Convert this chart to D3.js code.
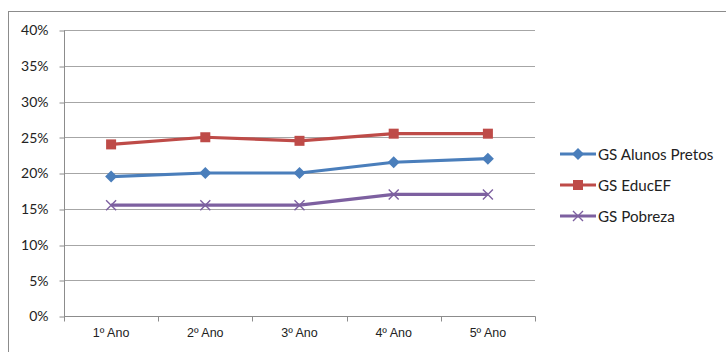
<!DOCTYPE html>
<html>
<head>
<meta charset="utf-8">
<script src="https://cdn.jsdelivr.net/npm/d3@7"></script>
<style>
  html, body { margin: 0; padding: 0; background: #fff; }
  svg { display: block; }
</style>
</head>
<body>
<svg id="chart" width="726" height="352"></svg>
<script>
// Categories (school years) and series values in percent
const categories = ["1º Ano", "2º Ano", "3º Ano", "4º Ano", "5º Ano"];
const alunosPretos = [19.5, 20, 20, 21.5, 22];
const educEF = [24, 25, 24.5, 25.5, 25.5];
const pobreza = [15.5, 15.5, 15.5, 17, 17];
const yTicks = [0, 5, 10, 15, 20, 25, 30, 35, 40];

const series = [
  { name: "GS Alunos Pretos", values: alunosPretos, color: "#4A7EBB", marker: "diamond" },
  { name: "GS EducEF", values: educEF, color: "#BE4B48", marker: "square" },
  { name: "GS Pobreza", values: pobreza, color: "#7D60A0", marker: "cross" }
];

const svg = d3.select("#chart");
const plot = { left: 64, right: 535, top: 30, bottom: 316 };

// Outer chart frame
svg.append("rect")
  .attr("x", 8.5).attr("y", 11.5)
  .attr("width", 800).attr("height", 400)
  .attr("fill", "none").attr("stroke", "#8c8c8c").attr("stroke-width", 1);

const x = d3.scaleBand().domain(categories).range([plot.left, plot.right]);
const y = d3.scaleLinear().domain([0, 40]).range([plot.bottom, plot.top]);

// Horizontal gridlines
svg.append("g")
  .selectAll("line")
  .data(yTicks.filter(t => t > 0))
  .join("line")
  .attr("x1", plot.left).attr("x2", plot.right)
  .attr("y1", d => Math.round(y(d)) + 0.5).attr("y2", d => Math.round(y(d)) + 0.5)
  .attr("stroke", "#a6a6a6").attr("stroke-width", 1);

// Y axis
const yAxis = d3.axisLeft(y).tickValues(yTicks).tickSize(5).tickPadding(11)
  .tickFormat(d => d + "%");
const gy = svg.append("g").attr("transform", `translate(${plot.left + 0.5},0.5)`).call(yAxis);
gy.select(".domain").attr("stroke", "#8c8c8c").attr("d", `M0,${plot.top}V${plot.bottom}`);
gy.selectAll(".tick line").attr("stroke", "#8c8c8c")
  .attr("transform", function(d) { return `translate(0,${Math.round(y(d)) - y(d)})`; });
gy.selectAll(".tick text")
  .attr("font-family", "Lato, 'Open Sans', sans-serif")
  .attr("font-size", "14px").attr("fill", "#222");

// X axis with boundary ticks between categories
const gx = svg.append("g").attr("transform", `translate(0,${plot.bottom + 0.5})`);
gx.append("line").attr("x1", plot.left).attr("x2", plot.right + 0.5)
  .attr("stroke", "#8c8c8c");
const bounds = categories.map(c => x(c)).concat([plot.right]);
gx.selectAll("line.b").data(bounds).join("line").attr("class", "b")
  .attr("x1", d => Math.round(d) + 0.5).attr("x2", d => Math.round(d) + 0.5)
  .attr("y1", 0).attr("y2", 5).attr("stroke", "#8c8c8c");
gx.selectAll("text").data(categories).join("text")
  .attr("x", d => x(d) + x.bandwidth() / 2)
  .attr("y", 20.5)
  .attr("text-anchor", "middle")
  .attr("font-family", "'Liberation Sans', Arial, sans-serif")
  .attr("font-size", "12.5px").attr("fill", "#222")
  .text(d => d);

const cx = c => x(c) + x.bandwidth() / 2;
const line = d3.line().x((d, i) => cx(categories[i])).y(d => y(d));

function drawMarker(g, type, color) {
  if (type === "diamond") {
    g.append("path").attr("d", "M0,-6L6,0L0,6L-6,0Z").attr("fill", color);
  } else if (type === "square") {
    g.append("rect").attr("x", -5).attr("y", -5).attr("width", 10).attr("height", 10).attr("fill", color);
  } else {
    g.append("path").attr("d", "M-5,-5L5,5M-5,5L5,-5")
      .attr("stroke", color).attr("stroke-width", 1.4).attr("fill", "none");
  }
}

// Series lines and markers
series.forEach(s => {
  svg.append("path").datum(s.values)
    .attr("d", line)
    .attr("fill", "none").attr("stroke", s.color)
    .attr("stroke-width", 3.2).attr("stroke-linejoin", "round");
  s.values.forEach((v, i) => {
    const g = svg.append("g").attr("transform", `translate(${cx(categories[i])},${y(v)})`);
    drawMarker(g, s.marker, s.color);
  });
});

// Legend
const legend = svg.append("g");
series.forEach((s, i) => {
  const ly = 154 + i * 31;
  const g = legend.append("g").attr("transform", `translate(0,${ly})`);
  g.append("line").attr("x1", 560).attr("x2", 596).attr("y1", 0).attr("y2", 0)
    .attr("stroke", s.color).attr("stroke-width", 3.2);
  const m = g.append("g").attr("transform", "translate(578,0)");
  drawMarker(m, s.marker, s.color);
  g.append("text").attr("x", 598).attr("y", 5.5)
    .attr("font-family", "Lato, 'Open Sans', sans-serif")
    .attr("font-size", "15.2px").attr("fill", "#222")
    .text(s.name);
});
</script>
</body>
</html>
